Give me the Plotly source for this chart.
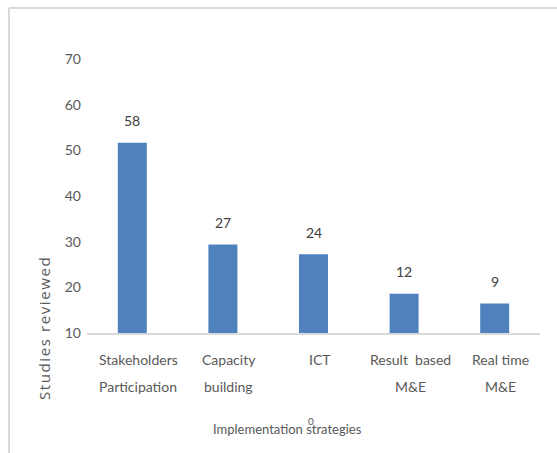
import plotly.graph_objects as go

# Implementation strategies and the number of studies reviewed for each
categories = [
    "Stakeholders<br>Participation",
    "Capacity<br>building",
    "ICT",
    "Result  based<br>M&E",
    "Real time<br>M&E",
]
studies = [58, 27, 24, 12, 9]

# Printed y-axis labels: the baseline is labelled 10 and each labelled
# step of 10 covers STEP study counts on the bar scale.
axis_labels = [10, 20, 30, 40, 50, 60, 70]
STEP = 13.93

W, H = 557, 453
L, R, T, B = 87, 17, 59, 120
PW, PH = W - L - R, H - T - B

GRAY = "#595959"
DARK = "#404040"
BAR = "#4f81bd"
FRAME = "#d9d9d9"
FONT = "Lato"


def px(x, y):
    """Page pixel position -> paper coordinates of the plot area."""
    return (x - L) / PW, (H - B - y) / PH


fig = go.Figure(
    go.Bar(
        x=categories,
        y=studies,
        width=0.32,
        marker=dict(color=BAR, line=dict(width=0)),
        hoverinfo="skip",
    )
)

annotations = []

# value labels above the bars
for cat, val in zip(categories, studies):
    annotations.append(dict(
        x=cat, y=val, xref="x", yref="y", text=str(val),
        showarrow=False, yanchor="middle", yshift=22,
        font=dict(family=FONT, size=14, color=DARK),
    ))

# category labels, one annotation per line for wider line spacing
for cat in categories:
    for i, line in enumerate(cat.split("<br>")):
        annotations.append(dict(
            x=cat, y=0, xref="x", yref="y", text=line,
            showarrow=False, yanchor="middle", xanchor="center",
            xshift=6, yshift=-(26 + 27 * i),
            font=dict(family=FONT, size=14, color=GRAY),
        ))

# axis titles
xt = px(287, 429)
annotations.append(dict(
    x=xt[0], y=xt[1], xref="paper", yref="paper",
    text="Implementation strategies", showarrow=False,
    xanchor="center", yanchor="middle",
    font=dict(family=FONT, size=13, color=GRAY),
))
zt = px(311, 421)
annotations.append(dict(
    x=zt[0], y=zt[1], xref="paper", yref="paper",
    text="0", showarrow=False, xanchor="center", yanchor="middle",
    font=dict(family=FONT, size=10, color=GRAY),
))
yt = px(44, 328)
annotations.append(dict(
    x=yt[0], y=yt[1], xref="paper", yref="paper",
    text='<span style="letter-spacing:1.6px">Studies reviewed</span>',
    showarrow=False, textangle=-90,
    xanchor="center", yanchor="middle",
    font=dict(family="Open Sans", size=15, color=GRAY),
))

# light frame around the chart area
f0 = px(9, 8)
f1 = px(570, 470)
shapes = [
    dict(type="line", xref="paper", yref="paper",
         x0=f0[0], y0=f0[1], x1=f1[0], y1=f0[1],
         line=dict(color=FRAME, width=2)),
    dict(type="line", xref="paper", yref="paper",
         x0=f0[0], y0=f0[1], x1=f0[0], y1=f1[1],
         line=dict(color=FRAME, width=2)),
]

fig.update_layout(
    width=W, height=H,
    margin=dict(l=L, r=R, t=T, b=B, pad=0),
    paper_bgcolor="white", plot_bgcolor="white",
    showlegend=False,
    annotations=annotations,
    shapes=shapes,
    xaxis=dict(
        showticklabels=False, showgrid=False, zeroline=False,
        showline=True, linecolor=FRAME, linewidth=1.5,
        ticks="", range=[-0.5, len(categories) - 0.5],
        fixedrange=True,
    ),
    yaxis=dict(
        range=[0, STEP * (len(axis_labels) - 1)],
        tickvals=[STEP * i for i in range(len(axis_labels))],
        ticktext=[str(v) for v in axis_labels],
        showgrid=False, zeroline=False, showline=False, ticks="",
        ticklabelstandoff=5,
        tickfont=dict(family=FONT, size=14, color=GRAY),
        fixedrange=True,
    ),
)

fig.write_html("out.html", config={"displayModeBar": False})
